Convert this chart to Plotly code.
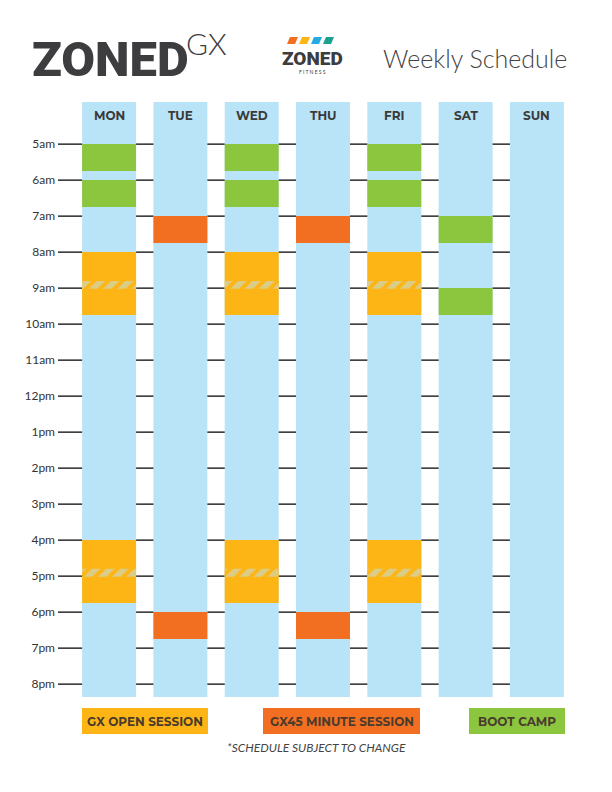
import plotly.graph_objects as go

# schedule data (hours, 24h clock)
days = ["MON", "TUE", "WED", "THU", "FRI", "SAT", "SUN"]
hour_vals = list(range(5, 21))
hour_labels = ["5am", "6am", "7am", "8am", "9am", "10am", "11am", "12pm",
               "1pm", "2pm", "3pm", "4pm", "5pm", "6pm", "7pm", "8pm"]
day_top = 3.83
day_bottom = 20.36

open_days = ["MON", "MON", "WED", "WED", "FRI", "FRI"]
open_start = [8.0, 16.0, 8.0, 16.0, 8.0, 16.0]
open_len = [1.75, 1.75, 1.75, 1.75, 1.75, 1.75]
split_start = [8.8, 16.8, 8.8, 16.8, 8.8, 16.8]
split_len = [0.22, 0.22, 0.22, 0.22, 0.22, 0.22]

gx45_days = ["TUE", "TUE", "THU", "THU"]
gx45_start = [7.0, 18.0, 7.0, 18.0]
gx45_len = [0.75, 0.75, 0.75, 0.75]

boot_days = ["MON", "MON", "WED", "WED", "FRI", "FRI", "SAT", "SAT"]
boot_start = [5.0, 6.0, 5.0, 6.0, 5.0, 6.0, 7.0, 9.0]
boot_len = [0.75, 0.75, 0.75, 0.75, 0.75, 0.75, 0.75, 0.75]

BLUE = "#b9e4f7"
YELLOW = "#fdb515"
ORANGE = "#f26f22"
GREEN = "#8cc63f"
DARK = "#3d3d3f"
W = 0.757

# plot area in page pixels
PL, PR, PT, PB = 82, 564, 102, 697


def px(x):
    return (x - PL) / (PR - PL)


def py(y):
    return 1 + (PT - y) / (PB - PT)


fig = go.Figure()


def add_bars(x, base, length, color, pattern=None):
    fig.add_trace(go.Bar(
        x=[days.index(d) for d in x], base=base, y=length, width=W,
        marker=dict(color=color, line_width=0, pattern=pattern),
        hoverinfo="skip", showlegend=False))


add_bars(days, [day_top] * 7, [day_bottom - day_top] * 7, BLUE)
add_bars(open_days, open_start, open_len, YELLOW)
add_bars(open_days, split_start, split_len, YELLOW,
         pattern=dict(shape="/", fgcolor=BLUE, bgcolor=YELLOW, size=10, solidity=0.6))
add_bars(gx45_days, gx45_start, gx45_len, ORANGE)
add_bars(boot_days, boot_start, boot_len, GREEN)

# hour grid lines, behind the columns
for h in hour_vals:
    fig.add_shape(type="line", xref="paper", yref="y", x0=px(58), x1=px(510),
                  y0=h, y1=h, line=dict(color="black", width=1.2), layer="below")

# day names inside the columns
for i, d in enumerate(days):
    fig.add_annotation(x=i, y=4.2, text=f"<b>{d}</b>", showarrow=False,
                       font=dict(family="Montserrat, Lato, sans-serif", size=12, color="#3a3a3a"))


def note(x, y, text, font, xanchor="center"):
    fig.add_annotation(xref="paper", yref="paper", x=px(x), y=py(y), xanchor=xanchor,
                       yanchor="middle", text=text, showarrow=False, font=font)


# header
note(30, 59, "ZONED", dict(family="Roboto", size=49, color=DARK, weight=900), "left")
note(184, 43, "GX", dict(family="Lato", size=30, color=DARK, weight=300), "left")
note(312, 58, "ZONED", dict(family="Roboto", size=19, color=DARK, weight=900))
note(312, 72, "F I T N E S S", dict(family="Lato", size=5, color=DARK))
for k, c in enumerate([ORANGE, YELLOW, "#27a9e1", "#1aa08f"]):
    x0 = 287 + k * 12
    path = (f"M {px(x0)} {py(44)} L {px(x0 + 8)} {py(44)} "
            f"L {px(x0 + 11)} {py(37)} L {px(x0 + 3)} {py(37)} Z")
    fig.add_shape(type="path", xref="paper", yref="paper", path=path,
                  fillcolor=c, line_width=0)
note(381, 58, "Weekly Schedule", dict(family="Lato", size=25, color="#444444", weight=300), "left")

# legend boxes
legend_items = [("GX OPEN SESSION", YELLOW, 82, 208),
                ("GX45 MINUTE SESSION", ORANGE, 263, 420),
                ("BOOT CAMP", GREEN, 469, 565)]
for label, color, x0, x1 in legend_items:
    fig.add_shape(type="rect", xref="paper", yref="paper", x0=px(x0), x1=px(x1),
                  y0=py(734), y1=py(708), fillcolor=color, line_width=0)
    note((x0 + x1) / 2, 721, f"<b>{label}</b>",
         dict(family="Montserrat, Lato, sans-serif", size=12, color="#4a3b2c"))
note(316, 747, "<i>*SCHEDULE SUBJECT TO CHANGE</i>",
     dict(family="Lato", size=12, color="#444444"))

# page body has an 8px margin, so shift the margins to land the plot at PL/PT
fig.update_layout(
    width=612, height=792, barmode="overlay",
    margin=dict(l=PL - 8, r=612 - PR + 8, t=PT - 8, b=792 - PB + 8),
    paper_bgcolor="white", plot_bgcolor="white",
    xaxis=dict(range=[-0.38, 6.38], visible=False, fixedrange=True),
    yaxis=dict(range=[day_bottom, day_top], tickvals=hour_vals, ticktext=hour_labels,
               showgrid=False, zeroline=False, ticks="", ticklabelstandoff=26,
               tickfont=dict(family="Lato", size=12, color="#333333")),
)

fig.write_html("out.html")
